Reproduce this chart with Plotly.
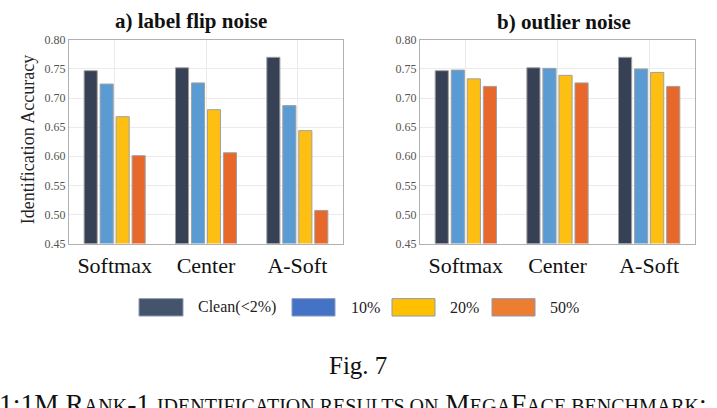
import plotly.graph_objects as go

categories = ["Softmax", "Center", "A-Soft"]
series_names = ["Clean(<2%)", "10%", "20%", "50%"]

label_flip = {
    "Clean(<2%)": [0.747, 0.752, 0.770],
    "10%": [0.724, 0.726, 0.687],
    "20%": [0.668, 0.680, 0.644],
    "50%": [0.601, 0.606, 0.507],
}
outlier = {
    "Clean(<2%)": [0.747, 0.752, 0.770],
    "10%": [0.748, 0.751, 0.750],
    "20%": [0.733, 0.739, 0.744],
    "50%": [0.720, 0.726, 0.720],
}

y_ticks = [0.45, 0.50, 0.55, 0.60, 0.65, 0.70, 0.75, 0.80]
y_tick_labels = ["0.45", "0.50", "0.55", "0.60", "0.65", "0.70", "0.75", "0.80"]

bar_colors = ["#364156", "#5B9BD4", "#FDBF12", "#E8682B"]
legend_colors = ["#44546A", "#4472C4", "#FFC000", "#ED7D31"]

panel_titles = ["a) label flip noise", "b) outlier noise"]
fig_label = "Fig. 7"

W, H = 717, 408
SERIF = "Liberation Serif, Times New Roman, serif"

fig = go.Figure()

for i, name in enumerate(series_names):
    fig.add_trace(go.Bar(x=categories, y=label_flip[name], name=name,
                         marker=dict(color=bar_colors[i], line=dict(color="#a0a0a0", width=1)),
                         xaxis="x", yaxis="y", showlegend=False))
for i, name in enumerate(series_names):
    fig.add_trace(go.Bar(x=categories, y=outlier[name], name=name,
                         marker=dict(color=bar_colors[i], line=dict(color="#a0a0a0", width=1)),
                         xaxis="x2", yaxis="y2", showlegend=False))

def px_x(p):
    return p / W

def px_y(p):
    return 1 - p / H

ydom = [px_y(245), px_y(34)]

xaxis_common = dict(
    type="category", range=[-0.5, 2.5], showgrid=True, gridcolor="#ebebeb",
    showline=True, mirror=True, linecolor="#b0b0b0", linewidth=1,
    ticks="", tickfont=dict(family=SERIF, size=22, color="#111"),
    ticklabelstandoff=2, zeroline=False,
)
yaxis_common = dict(
    range=[0.45, 0.80], tickvals=y_ticks, ticktext=y_tick_labels, showgrid=True,
    gridcolor="#ebebeb", showline=True, mirror=True, linecolor="#b0b0b0", linewidth=1,
    ticks="", tickfont=dict(family=SERIF, size=12, color="#555"), zeroline=False,
)

fig.update_layout(
    width=W, height=H, margin=dict(l=0, r=0, t=0, b=0),
    paper_bgcolor="white", plot_bgcolor="white",
    barmode="group", bargap=0.3, bargroupgap=0.18,
    xaxis=dict(domain=[px_x(69), px_x(343)], anchor="y", **xaxis_common),
    yaxis=dict(domain=ydom, anchor="x", **yaxis_common),
    xaxis2=dict(domain=[px_x(420), px_x(695)], anchor="y2", **xaxis_common),
    yaxis2=dict(domain=ydom, anchor="x2", **yaxis_common),
    showlegend=False,
)

annotations = [
    dict(text="<b>" + panel_titles[0] + "</b>", x=px_x(191), y=px_y(15), xref="paper", yref="paper",
         showarrow=False, font=dict(family=SERIF, size=21, color="#111"), xanchor="center", yanchor="middle"),
    dict(text="<b>" + panel_titles[1] + "</b>", x=px_x(564), y=px_y(16), xref="paper", yref="paper",
         showarrow=False, font=dict(family=SERIF, size=21, color="#111"), xanchor="center", yanchor="middle"),
    dict(text="Identification Accuracy", x=px_x(28), y=px_y(138), xref="paper", yref="paper",
         showarrow=False, textangle=-90, font=dict(family=SERIF, size=18, color="#222"),
         xanchor="center", yanchor="middle"),
    dict(text=fig_label, x=px_x(358), y=px_y(371), xref="paper", yref="paper", showarrow=False,
         font=dict(family=SERIF, size=25, color="#111"), xanchor="center", yanchor="middle"),
]

small = "font-size:20px"
caption = ("1:1M R<span style='%s'>ANK</span>-1 <span style='%s'>IDENTIFICATION RESULTS ON</span> "
           "M<span style='%s'>EGA</span>F<span style='%s'>ACE BENCHMARK</span>:") % (small, small, small, small)
annotations.append(dict(text=caption, x=px_x(-3), y=px_y(392), xref="paper", yref="paper", showarrow=False,
                        font=dict(family=SERIF, size=27.5, color="#111"), xanchor="left", yanchor="top"))

# legend drawn as shapes + text
rects = [(139, 183), (292, 335), (392, 435), (492, 535)]
text_x = [196, 349, 448, 548]
shapes = []
for i, name in enumerate(series_names):
    x0, x1 = rects[i]
    shapes.append(dict(type="rect", xref="paper", yref="paper", x0=px_x(x0), x1=px_x(x1),
                       y0=px_y(320), y1=px_y(302), fillcolor=legend_colors[i],
                       line=dict(color="#8a9ab8", width=1)))
    annotations.append(dict(text=name, x=px_x(text_x[i]), y=px_y(311), xref="paper", yref="paper",
                            showarrow=False, xanchor="left", yanchor="middle",
                            font=dict(family=SERIF, size=16, color="#222")))

fig.update_layout(annotations=annotations, shapes=shapes)
fig.write_html("out.html")
